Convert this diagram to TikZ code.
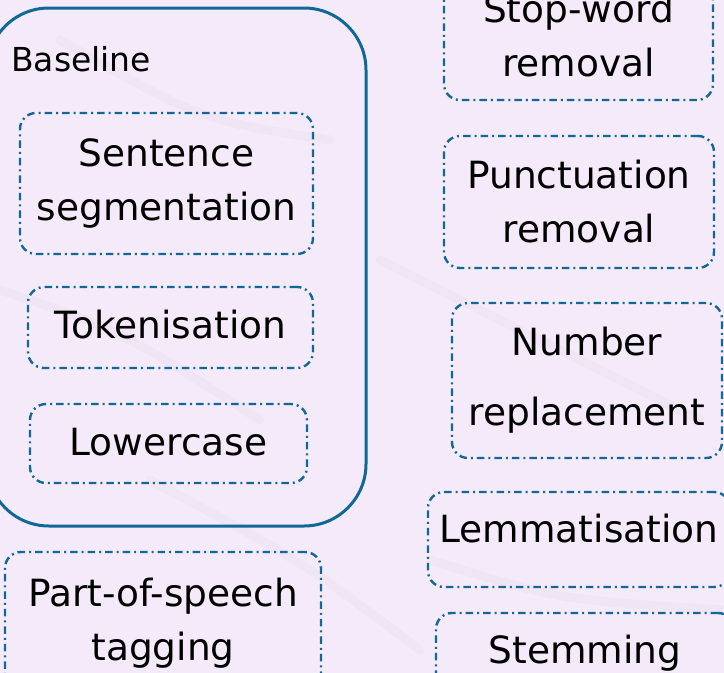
\documentclass[tikz,border=0pt]{standalone}
\usepackage{fontspec}
\setmainfont{DejaVu Sans}
\usepackage{tikz}
\usetikzlibrary{shapes,arrows}

\definecolor{stepblue}{RGB}{16,104,150}
\definecolor{bgviolet}{RGB}{245,234,250}
\definecolor{streakgray}{RGB}{170,160,175}

\tikzset{
  stepbox/.style={draw=stepblue, line width=2.4pt, rounded corners=16pt,
    dash pattern=on 7.5pt off 4pt on 2pt off 4pt,
    align=center, inner sep=0pt, font=\fontsize{37.5}{54}\selectfont},
  oneline/.style={text height=28pt, text depth=6pt},
  groupbox/.style={draw=stepblue, line width=3pt, rounded corners=62pt, inner sep=0pt},
  streak/.style={streakgray, opacity=0.06, line width=9pt, line cap=round}
}

\begin{document}
\begin{tikzpicture}[x=1pt,y=-1pt]
  \fill[bgviolet] (0,0) rectangle (724,673);
  \useasboundingbox (0,0) rectangle (724,673);
  \clip (0,0) rectangle (724,673);

  %background streaks
  \draw[streak] (0,290) .. controls (120,330) .. (260,420);
  \draw[streak] (60,40) .. controls (200,120) .. (330,140);
  \draw[streak] (380,260) .. controls (520,330) .. (700,420);
  \draw[streak] (150,480) .. controls (300,560) .. (420,650);
  \draw[streak] (430,560) .. controls (560,600) .. (724,610);

  %Baseline
  \node[groupbox, minimum width=379pt, minimum height=518pt] (basegrp) at (176.5,267) {};
  \node[anchor=base west, inner sep=0pt, font=\fontsize{33}{40}\selectfont] (basetitle) at (11,71) {Baseline};
  \node[stepbox, minimum width=293pt, minimum height=141pt] (sent) at (166.5,183.5) {Sentence\\segmentation};
  \node[stepbox, oneline, minimum width=285pt, minimum height=81pt] (tok) at (170.5,327.5) {Tokenisation};
  \node[stepbox, oneline, text depth=4pt, minimum width=277pt, minimum height=79pt] (low) at (168.5,443.5) {Lowercase};

  %further steps
  \node[stepbox, minimum width=316pt, minimum height=142pt] (pos) at (163,623) {Part-of-speech\\tagging};
  \node[stepbox, minimum width=269pt, minimum height=128pt] (stop) at (578.5,36) {Stop-word\\removal};
  \node[stepbox, minimum width=270pt, minimum height=132pt] (punct) at (579,202) {Punctuation\\removal};
  \node[stepbox, font=\fontsize{37.5}{70}\selectfont, minimum width=270pt, minimum height=155pt] (num) at (587,380.5) {Number\\replacement};
  \node[stepbox, oneline, text depth=22pt, minimum width=302pt, minimum height=95pt] (lem) at (579,539.5) {Lemmatisation};
  \node[stepbox, oneline, text depth=22pt, minimum width=298pt, minimum height=95pt] (stem) at (585,660.5) {Stemming};

\end{tikzpicture}
\end{document}
